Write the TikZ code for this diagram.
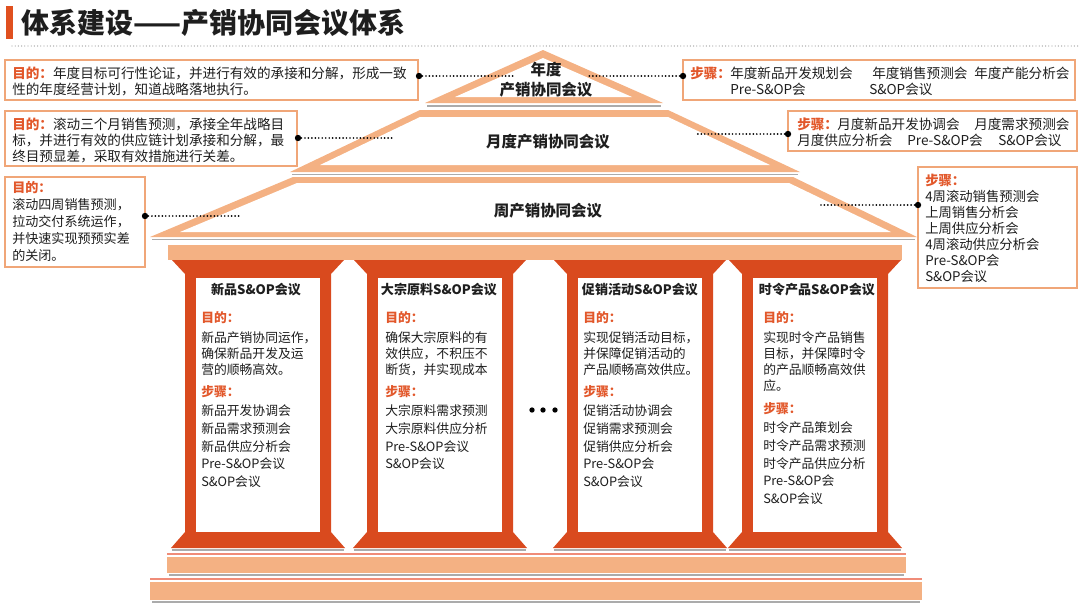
\documentclass[tikz,border=0pt]{standalone}
\usepackage{fontspec}
\setmainfont{Noto Sans CJK SC}
\usetikzlibrary{positioning,calc}
\definecolor{ink}{HTML}{1E1E1E}
\definecolor{roof}{HTML}{F4B183}
\definecolor{pillar}{HTML}{D94A1E}
\definecolor{keyc}{HTML}{E2572A}
\definecolor{frame}{HTML}{F0A678}
\definecolor{shadowc}{HTML}{ABABAB}
\definecolor{seam}{HTML}{F08C78}
\definecolor{barc}{HTML}{E0501F}
\newcommand{\keyw}[1]{{\color{keyc}\bfseries #1}}

\begin{document}
\begin{tikzpicture}[x=0.75pt,y=-0.75pt,
  font=\fontsize{10.2}{12}\selectfont, text=ink,
  shadowline/.style={draw=shadowc,line width=1.2pt},
  infobox/.style={draw=frame,line width=0.9pt,fill=white},
  oneline/.style={inner sep=0pt,anchor=west},
  block/.style={inner sep=0pt,anchor=north west,align=left},
  roofl/.style={font=\fontsize{11.6}{14.5}\selectfont\bfseries,inner sep=0pt,align=center},
  knob/.style={circle,fill=black,inner sep=0pt,minimum size=4.8pt},
  lead/.style={line width=1.4pt,line cap=round,dash pattern=on 0pt off 2.6pt},
  coltitle/.style={font=\fontsize{9.8}{12}\selectfont\bfseries,inner sep=0pt},
  colkey/.style={font=\fontsize{9.6}{12}\selectfont\bfseries,text=keyc,inner sep=0pt,anchor=west},
  coltext/.style={font=\fontsize{9.6}{12}\selectfont,inner sep=0pt,anchor=north west,align=left},
  colsteps/.style={font=\fontsize{9.6}{13.3}\selectfont,inner sep=0pt,anchor=north west,align=left},
]
\useasboundingbox (0,0) rectangle (1080,607);

%================================================================== TITLE ===
\fill[barc] (6,6) rectangle (13,39);
\node[oneline,font=\fontsize{21}{24}\selectfont\bfseries] (title) at (21,23)
  {体系建设——产销协同会议体系};
\draw[gray!70,line width=1pt,line cap=round,dash pattern=on 0pt off 2.4pt] (12,46) -- (1078,46);

%=================================================================== ROOF ===
% annual triangle
\fill[roof] (425,103) -- (543,50) -- (663,103) -- cycle;
\fill[white] (455,97) -- (543,58) -- (632,97) -- cycle;
\draw[shadowline] (427,106) -- (661,106);
% monthly band
\fill[roof] (290,172) -- (420,110) -- (668,110) -- (800,172) -- cycle;
\fill[white] (320,165) -- (420,117) -- (668,117) -- (770,165) -- cycle;
\draw[shadowline] (292,174.5) -- (798,174.5);
% weekly band
\fill[roof] (150,237) -- (293,177) -- (793,177) -- (917,237) -- cycle;
\fill[white] (180,232) -- (297,183) -- (789,183) -- (891,232) -- cycle;
\draw[shadowline] (152,239.5) -- (915,239.5);

\node[roofl] (yr) at (546,79.5) {年度\\产销协同会议};
\node[roofl] (mo) at (548,142) {月度产销协同会议};
\node[roofl] (wk) at (548,211) {周产销协同会议};

%================================================================ COLUMNS ===
\fill[roof] (168,245) rectangle (902,260);
\foreach \cx in {258,440,640,815}{
  \fill[pillar] (\cx-86,260) -- (\cx+86,260) -- (\cx+73,274) -- (\cx+73,532)
    -- (\cx+87,548) -- (\cx-87,548) -- (\cx-73,532) -- (\cx-73,274) -- cycle;
  \fill[white] (\cx-62,278) rectangle (\cx+62,532);
  \draw[shadowline] (\cx-86,550) -- (\cx+86,550);
}
\foreach \x [count=\i] in {532,543,555}
  \node[circle,fill=black,inner sep=0pt,minimum size=4pt] (gap\i) at (\x,410) {};

% plinths
\draw[seam,line width=0.9pt] (167,554) -- (906,554);
\fill[roof] (167,557) rectangle (906,573);
\draw[shadowline] (169,575) -- (904,575);
\draw[seam,line width=0.9pt] (150,579) -- (922,579);
\fill[roof] (150,582) rectangle (922,600);
\draw[shadowline] (152,602) -- (920,602);

% new products
\node[coltitle] (c1t) at (256,290) {新品S\&OP会议};
\node[colkey] (c1a) at (201,318) {目的：};
\node[coltext] (c1p) at (201,331.6) {新品产销协同运作，\\确保新品开发及运\\营的顺畅高效。};
\node[colkey] (c1b) at (201,392) {步骤：};
\node[colsteps] (c1s) at (201,404.6)
  {新品开发协调会\\新品需求预测会\\新品供应分析会\\Pre-S\&OP会议\\S\&OP会议};
% bulk materials
\node[coltitle] (c2t) at (439,290) {大宗原料S\&OP会议};
\node[colkey] (c2a) at (385,318) {目的：};
\node[coltext] (c2p) at (385,331.6) {确保大宗原料的有\\效供应，不积压不\\断货，并实现成本};
\node[colkey] (c2b) at (385,392) {步骤：};
\node[colsteps] (c2s) at (385,404.6)
  {大宗原料需求预测\\大宗原料供应分析\\Pre-S\&OP会议\\S\&OP会议};
% promotions
\node[coltitle] (c3t) at (640,290) {促销活动S\&OP会议};
\node[colkey] (c3a) at (583,318) {目的：};
\node[coltext] (c3p) at (583,331.6) {实现促销活动目标，\\并保障促销活动的\\产品顺畅高效供应。};
\node[colkey] (c3b) at (583,392) {步骤：};
\node[colsteps] (c3s) at (583,404.6)
  {促销活动协调会\\促销需求预测会\\促销供应分析会\\Pre-S\&OP会\\S\&OP会议};
% seasonal products
\node[coltitle] (c4t) at (817,290) {时令产品S\&OP会议};
\node[colkey] (c4a) at (763,318) {目的：};
\node[coltext] (c4p) at (763,331.6) {实现时令产品销售\\目标，并保障时令\\的产品顺畅高效供\\应。};
\node[colkey] (c4b) at (763,409) {步骤：};
\node[colsteps] (c4s) at (763,421.6)
  {时令产品策划会\\时令产品需求预测\\时令产品供应分析\\Pre-S\&OP会\\S\&OP会议};

%================================================================== BOXES ===
% annual
\draw[infobox] (5,60) rectangle (418,100);
\node[block] (pA) at (12,66.2)
  {\keyw{目的：}年度目标可行性论证，并进行有效的承接和分解，形成一致\\性的年度经营计划，知道战略落地执行。};
\draw[infobox] (683,60) rectangle (1075,100);
\foreach \t/\x/\y [count=\i] in {年度新品开发规划会/730/73, 年度销售预测会/872/73,
    年度产能分析会/974/73, Pre-S\&OP会/730/89, S\&OP会议/869/89}
  \node[oneline] (sA\i) at (\x,\y) {\t};
\node[oneline] (kA) at (690,73) {\keyw{步骤：}};

% monthly
\draw[infobox] (5,111) rectangle (297,166);
\node[block] (pB) at (12,117.2)
  {\keyw{目的：}滚动三个月销售预测，承接全年战略目\\标，并进行有效的供应链计划承接和分解，最\\终目预显差，采取有效措施进行关差。};
\draw[infobox] (788,111) rectangle (1077,151);
\foreach \t/\x/\y [count=\i] in {月度新品开发协调会/837/124, 月度需求预测会/974/124,
    月度供应分析会/797/140, Pre-S\&OP会/907/140, S\&OP会议/998/140}
  \node[oneline] (sB\i) at (\x,\y) {\t};
\node[oneline] (kB) at (797,124) {\keyw{步骤：}};

% weekly
\draw[infobox] (5,177) rectangle (145,267);
\node[block,font=\fontsize{9.8}{12.6}\selectfont] (pC) at (12,181.5)
  {\keyw{目的：}\\滚动四周销售预测，\\拉动交付系统运作，\\并快速实现预预实差\\的关闭。};
\draw[infobox] (918,167) rectangle (1077,288);
\node[block,font=\fontsize{10}{12}\selectfont] (sC) at (925,174.3)
  {\keyw{步骤：}\\4周滚动销售预测会\\上周销售分析会\\上周供应分析会\\4周滚动供应分析会\\Pre-S\&OP会\\S\&OP会议};

%================================================================== LEADS ===
\node[knob] (kn1) at (419,76) {};   \coordinate (en1) at (513,76);
\node[knob] (kn2) at (683,76) {};   \coordinate (en2) at (587,76);
\node[knob] (kn3) at (298,138) {};  \coordinate (en3) at (395,138);
\node[knob] (kn4) at (788,134) {};  \coordinate (en4) at (695,134);
\node[knob] (kn5) at (145,216) {};  \coordinate (en5) at (242,216);
\node[knob] (kn6) at (918,205) {};  \coordinate (en6) at (820,205);
\foreach \i in {1,...,6}
  \draw[lead] (kn\i) -- (en\i);

\end{tikzpicture}
\end{document}
